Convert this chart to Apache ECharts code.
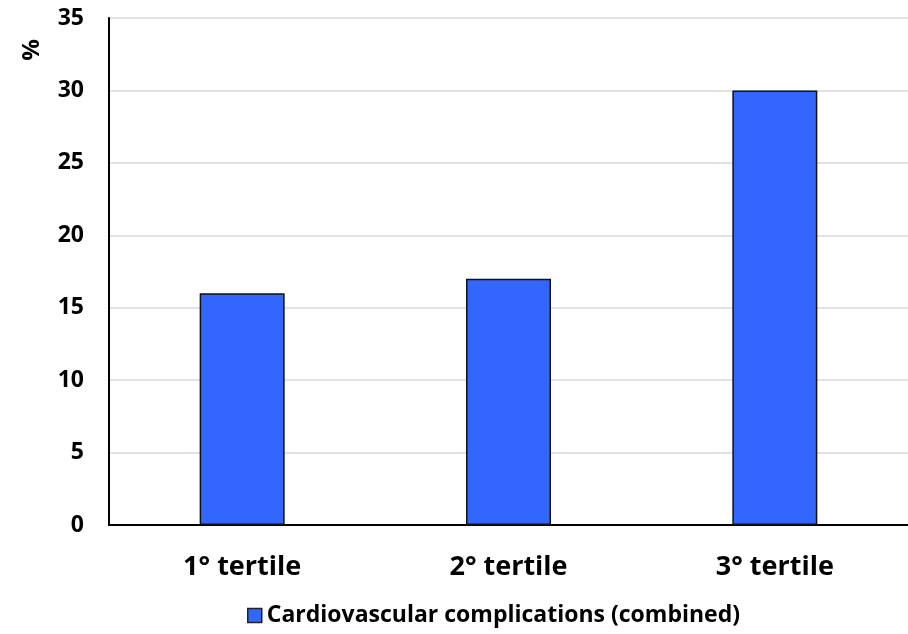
<!DOCTYPE html>
<html><head><meta charset="utf-8">
<script src="https://cdn.jsdelivr.net/npm/echarts@6/dist/echarts.min.js"></script>
<style>html,body{margin:0;padding:0;background:#fff}#c{width:908px;height:634px}</style>
</head><body><div id="c"></div>
<script>
const categories = ['1° tertile', '2° tertile', '3° tertile'];
const seriesName = 'Cardiovascular complications (combined)';
const values = [16, 17, 30];
const yTicks = [0, 5, 10, 15, 20, 25, 30, 35];

const chart = echarts.init(document.getElementById('c'));
const font = '"Open Sans", sans-serif';
chart.setOption({
  animation: false,
  grid: { left: 109, right: 0, top: 18, bottom: 109 },
  legend: {
    data: [seriesName], top: 599, left: 242,
    itemWidth: 14, itemHeight: 14, itemGap: 10,
    icon: 'rect',
    textStyle: { fontFamily: font, fontWeight: 'bold', fontSize: 23, color: '#000' },
    itemStyle: { borderColor: '#222', borderWidth: 1.5 }
  },
  graphic: [{
    type: 'text', x: 32, y: 50, rotation: Math.PI / 2,
    style: { text: '%', fontFamily: font, fontWeight: 'bold', fontSize: 24, fill: '#000', align: 'center', verticalAlign: 'middle' }
  }],
  xAxis: {
    type: 'category', data: categories,
    axisLine: { lineStyle: { color: '#000', width: 2 } },
    axisTick: { show: false },
    axisLabel: { margin: 29, fontFamily: font, fontWeight: 'bold', fontSize: 27, color: '#000' }
  },
  yAxis: {
    type: 'value', min: 0, max: 35, interval: 5,
    axisLine: { show: true, lineStyle: { color: '#000', width: 2 } },
    axisTick: { show: false },
    splitLine: { lineStyle: { color: '#d9d9d9', width: 1.5 } },
    axisLabel: { margin: 25, fontFamily: font, fontWeight: 'bold', fontSize: 23, color: '#000',
      formatter: v => yTicks.includes(v) ? String(v) : '' }
  },
  series: [{
    name: seriesName, type: 'bar', data: values, barWidth: 85,
    itemStyle: { color: '#3366ff', borderColor: '#111', borderWidth: 1.5 }
  }]
});
</script></body></html>
